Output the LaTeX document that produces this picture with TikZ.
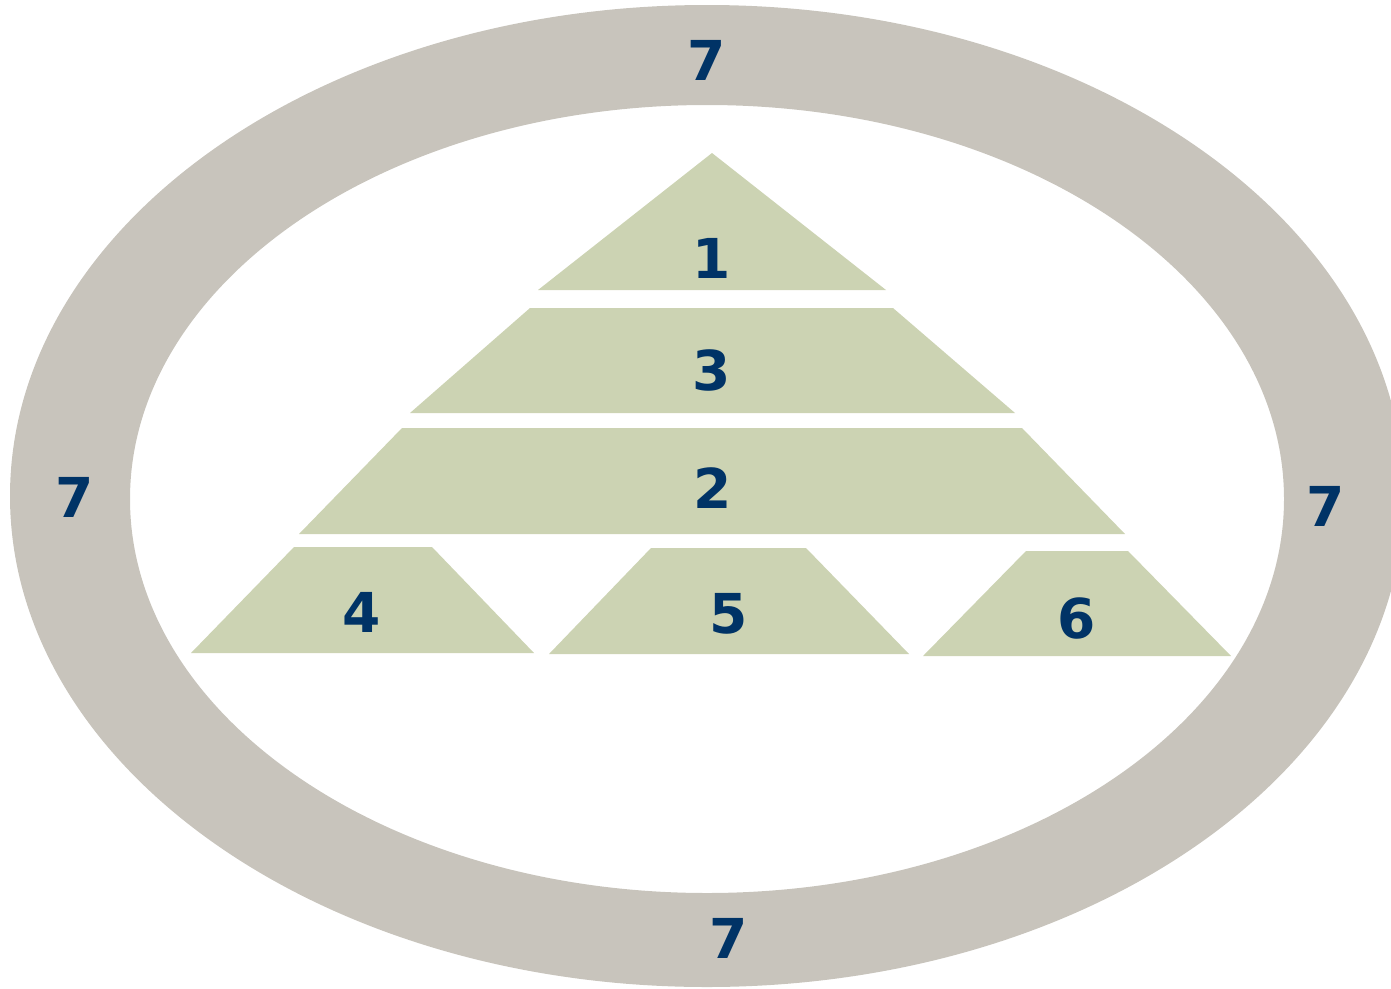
\documentclass[tikz,border=0pt]{standalone}
\usepackage{fontspec}
\newfontfamily\labelfont{DejaVu Sans}
\definecolor{ringgray}{HTML}{C8C4BC}
\definecolor{tiergreen}{HTML}{CCD3B3}
\definecolor{numblue}{HTML}{003366}
\begin{document}
\begin{tikzpicture}[x=1pt,y=-1pt,
  tier/.style={fill=tiergreen,draw=none},
  num/.style={text=numblue,font=\labelfont\bfseries\fontsize{55}{60}\selectfont,inner sep=0pt,anchor=center}]
\useasboundingbox (0,0) rectangle (1391,988);
\begin{scope}
\clip (0,0) rectangle (1391,988);
\fill[ringgray,even odd rule] (707,496) ellipse [x radius=697, y radius=491]
  (707,499) ellipse [x radius=577, y radius=394];
\end{scope}
% tiers
\fill[tier] (712,153) -- (886,290) -- (538,290) -- cycle;
\fill[tier] (530,308) -- (893,308) -- (1015,413) -- (410,413) -- cycle;
\fill[tier] (402,428) -- (1022,428) -- (1125,534) -- (299,534) -- cycle;
\fill[tier] (294,547) -- (432,547) -- (534,653) -- (191,653) -- cycle;
\fill[tier] (651,548) -- (806,548) -- (909,654) -- (549,654) -- cycle;
\fill[tier] (1026,551) -- (1128,551) -- (1231,656) -- (923,656) -- cycle;
% labels
\node[num] (n1) at (712,258) {1};
\node[num] (n3) at (712,370) {3};
\node[num] (n2) at (713,488) {2};
\node[num] (n4) at (362,612) {4};
\node[num] (n5) at (729,614) {5};
\node[num] (n6) at (1077,618) {6};
\node[num] (s7t) at (707,60) {7};
\node[num] (s7l) at (75,497) {7};
\node[num] (s7r) at (1326,506) {7};
\node[num] (s7b) at (729,938) {7};
\end{tikzpicture}
\end{document}
